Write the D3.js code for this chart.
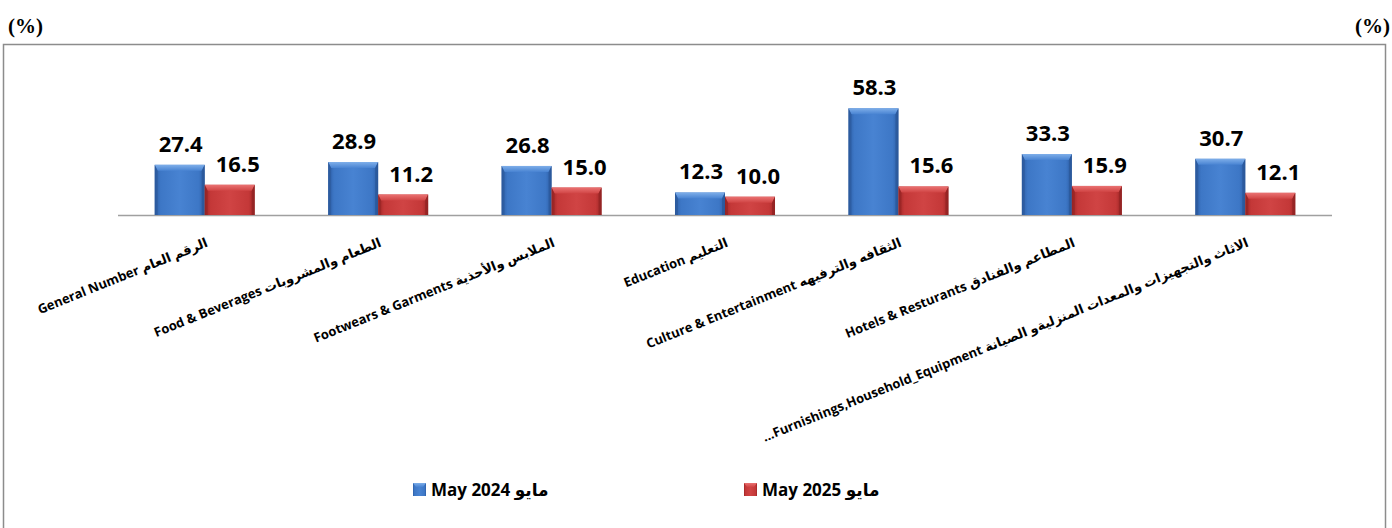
<!DOCTYPE html>
<html>
<head>
<meta charset="utf-8">
<script src="https://cdn.jsdelivr.net/npm/d3@7"></script>
<style>
  html, body { margin: 0; padding: 0; background: #fff; }
  svg { display: block; }
</style>
</head>
<body>
<svg id="chart" width="1392" height="528"></svg>
<script>
// ---- data ----
const categories = [
  "General Number الرقم العام",
  "Food & Beverages  الطعام والمشروبات",
  "Footwears & Garments  الملابس والأحذية",
  "Education  التعليم",
  "Culture & Entertainment الثقافه والترفيهه",
  "Hotels & Resturants  المطاعم والفنادق",
  "...Furnishings,Household_Equipment   الاثاث والتجهيزات والمعدات المنزليةو الصيانة"
];
const seriesNames = ["May 2024 مايو", "May 2025 مايو"];
const may2024 = [27.4, 28.9, 26.8, 12.3, 58.3, 33.3, 30.7];
const may2025 = [16.5, 11.2, 15.0, 10.0, 15.6, 15.9, 12.1];
const unitLabel = "(%)";

// ---- setup ----
const svg = d3.select("#chart");
const seriesKeys = ["s0", "s1"];
const rows = categories.map((c, i) => ({ cat: c, s0: may2024[i], s1: may2025[i] }));

const x0 = d3.scaleBand().domain(categories).range([118, 1332])
  .paddingInner(0.4233).paddingOuter(0.21165);
const x1 = d3.scaleBand().domain(seriesKeys).range([0, x0.bandwidth()]).padding(0);
const y = d3.scaleLinear().domain([0, 70]).range([215, 215 - 1.83 * 70]);

// frame
svg.append("rect").attr("x", 3.5).attr("y", 44.5).attr("width", 1382).attr("height", 520)
  .attr("fill", "none").attr("stroke", "#8c8c8c").attr("stroke-width", 1.5);

// unit labels
svg.append("text").attr("x", 8).attr("y", 33).text(unitLabel)
  .attr("font-family", "Liberation Serif, Times New Roman, serif").attr("font-weight", "bold")
  .attr("font-size", 21).attr("fill", "#000");
svg.append("text").attr("x", 1390).attr("y", 33).attr("text-anchor", "end").text(unitLabel)
  .attr("font-family", "Liberation Serif, Times New Roman, serif").attr("font-weight", "bold")
  .attr("font-size", 21).attr("fill", "#000");

// gradients
const defs = svg.append("defs");
const palettes = {
  s0: { edge: "#2d5ea6", mid1: "#3d77c6", mid2: "#4883d2", top: "#7eaee9", side: "#2a5696" },
  s1: { edge: "#9e2626", mid1: "#c43838", mid2: "#d04444", top: "#ea7272", side: "#8f2222" }
};
seriesKeys.forEach(k => {
  const p = palettes[k];
  const g = defs.append("linearGradient").attr("id", "g-" + k).attr("x1", 0).attr("x2", 1).attr("y1", 0).attr("y2", 0);
  [[0, p.edge], [0.12, p.mid1], [0.5, p.mid2], [0.88, p.mid1], [1, p.edge]].forEach(([o, c]) =>
    g.append("stop").attr("offset", o).attr("stop-color", c));
  const gt = defs.append("linearGradient").attr("id", "gt-" + k).attr("x1", 0).attr("x2", 0).attr("y1", 0).attr("y2", 1);
  gt.append("stop").attr("offset", 0).attr("stop-color", p.top);
  gt.append("stop").attr("offset", 1).attr("stop-color", p.mid2);
});

// axis baseline
svg.append("line").attr("x1", 118).attr("x2", 1332).attr("y1", y(0) + 0.5).attr("y2", y(0) + 0.5)
  .attr("stroke", "#a0a0a0").attr("stroke-width", 1.5);

// bars
const groups = svg.append("g").selectAll("g").data(rows).join("g")
  .attr("transform", d => `translate(${x0(d.cat)},0)`);

const bars = groups.selectAll("g.bar").data(d => seriesKeys.map(k => ({ key: k, value: d[k] })))
  .join("g").attr("class", "bar");

bars.each(function(d) {
  const g = d3.select(this);
  const bx = x1(d.key), bw = x1.bandwidth();
  const by = y(d.value);
  const t = 6, s = 3;
  const p = palettes[d.key];
  g.append("rect").attr("x", bx).attr("y", by).attr("width", bw).attr("height", y(0) - by)
    .attr("fill", `url(#g-${d.key})`);
  g.append("path").attr("d", `M${bx},${by}L${bx + bw},${by}L${bx + bw - s},${by + t}L${bx + s},${by + t}Z`)
    .attr("fill", `url(#gt-${d.key})`);
  g.append("path").attr("d", `M${bx},${by}L${bx + s},${by + t}L${bx + s},${y(0)}L${bx},${y(0)}Z`)
    .attr("fill", p.side).attr("opacity", 0.55);
  g.append("path").attr("d", `M${bx + bw},${by}L${bx + bw - s},${by + t}L${bx + bw - s},${y(0)}L${bx + bw},${y(0)}Z`)
    .attr("fill", p.side).attr("opacity", 0.7);
});

// value labels
bars.append("text")
  .attr("x", d => x1(d.key) + x1.bandwidth() / 2 + (d.key === "s1" ? 8 : 1))
  .attr("y", d => y(d.value) - 13)
  .attr("text-anchor", "middle")
  .attr("font-family", "Open Sans, Lato, sans-serif").attr("font-weight", "bold")
  .attr("font-size", 22).attr("fill", "#000")
  .text(d => d.value.toFixed(1));

// category labels
svg.append("g").selectAll("text").data(categories).join("text")
  .attr("transform", d => `translate(${x0(d) + x0.bandwidth() / 2 + 4},246) rotate(-22)`)
  .attr("text-anchor", "end")
  .attr("font-family", "Open Sans, DejaVu Sans, sans-serif").attr("font-weight", "bold")
  .attr("font-size", 13).attr("fill", "#000")
  .text(d => d);

// legend
const legendX = [413, 744];
const legend = svg.append("g").selectAll("g").data(seriesKeys).join("g")
  .attr("transform", (d, i) => `translate(${legendX[i]},483)`);
legend.append("rect").attr("width", 13).attr("height", 13).attr("fill", d => `url(#g-${d})`);
legend.append("path").attr("d", "M0,0L13,0L10,4L3,4Z").attr("fill", d => `url(#gt-${d})`);
legend.append("text").attr("x", 18).attr("y", 12.5)
  .attr("font-family", "Open Sans, DejaVu Sans, sans-serif").attr("font-weight", "bold")
  .attr("font-size", 17).attr("fill", "#000")
  .text((d, i) => seriesNames[i]);
</script>
</body>
</html>
